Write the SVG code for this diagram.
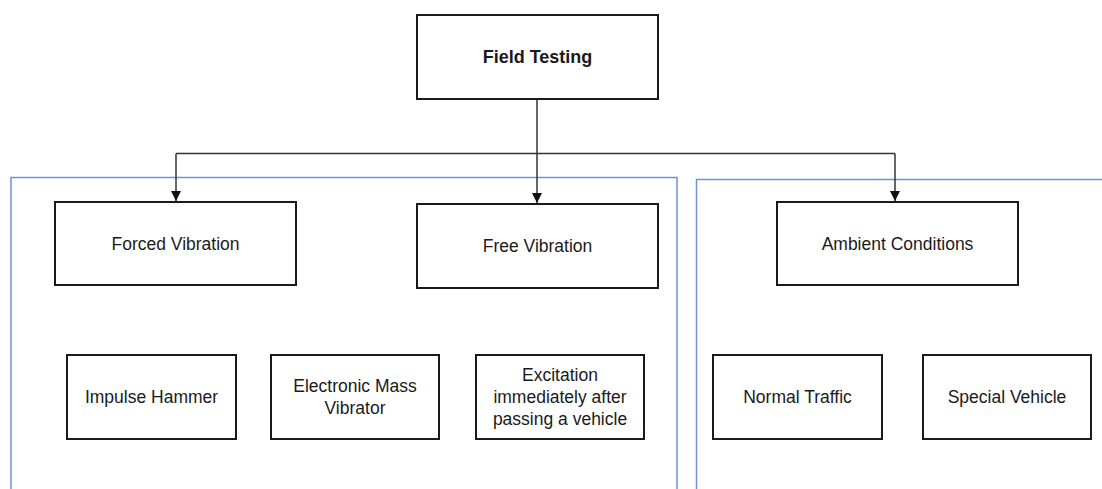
<svg xmlns="http://www.w3.org/2000/svg" width="1102" height="489" viewBox="0 0 1102 489">
<style>
.box{fill:#fff;stroke:#1a1a1a;stroke-width:2}
.t{font-family:"Liberation Sans",Arial,sans-serif;font-size:17.5px;fill:#1a1a1a;text-anchor:middle;dominant-baseline:central}
.b{font-weight:bold;font-size:18px}
.conn{fill:none;stroke:#333;stroke-width:1.5}
.panel{fill:none;stroke:#6f93d6;stroke-width:1.5}
</style>
<defs>
<marker id="arr" markerWidth="10" markerHeight="11" refX="10" refY="5" orient="auto" markerUnits="userSpaceOnUse">
<path d="M0,0 L10,5 L0,10 Z" fill="#111"/>
</marker>
</defs>
<g id="panels">
<path class="panel" d="M11,489 V177.5 H677 V489"/>
<path class="panel" d="M696.5,489 V179.5 H1102"/>
</g>
<g id="connectors">
<path class="conn" d="M537,99 V203" marker-end="url(#arr)"/>
<path class="conn" d="M176,153.5 H895"/>
<path class="conn" d="M176,153.5 V201" marker-end="url(#arr)"/>
<path class="conn" d="M895,153.5 V201" marker-end="url(#arr)"/>
</g>
<g id="field-testing"><rect class="box" x="417" y="15" width="241" height="84"/><text class="t b" x="537.5" y="57">Field Testing</text></g>
<g id="forced-vibration"><rect class="box" x="55" y="202" width="241" height="83"/><text class="t" x="175.5" y="243.5">Forced Vibration</text></g>
<g id="free-vibration"><rect class="box" x="417" y="204" width="241" height="84"/><text class="t" x="537.5" y="246">Free Vibration</text></g>
<g id="ambient-conditions"><rect class="box" x="777" y="202" width="241" height="83"/><text class="t" x="897.5" y="243.5">Ambient Conditions</text></g>
<g id="impulse-hammer"><rect class="box" x="67" y="355" width="169" height="84"/><text class="t" x="151.5" y="397">Impulse Hammer</text></g>
<g id="electronic-mass-vibrator"><rect class="box" x="271" y="355" width="168" height="84"/><text class="t" x="355" y="386">Electronic Mass</text><text class="t" x="355" y="408">Vibrator</text></g>
<g id="excitation"><rect class="box" x="476" y="355" width="168" height="84"/><text class="t" x="560" y="375">Excitation</text><text class="t" x="560" y="397">immediately after</text><text class="t" x="560" y="419">passing a vehicle</text></g>
<g id="normal-traffic"><rect class="box" x="713" y="355" width="169" height="84"/><text class="t" x="797.5" y="397">Normal Traffic</text></g>
<g id="special-vehicle"><rect class="box" x="923" y="355" width="168" height="84"/><text class="t" x="1007" y="397">Special Vehicle</text></g>
</svg>
